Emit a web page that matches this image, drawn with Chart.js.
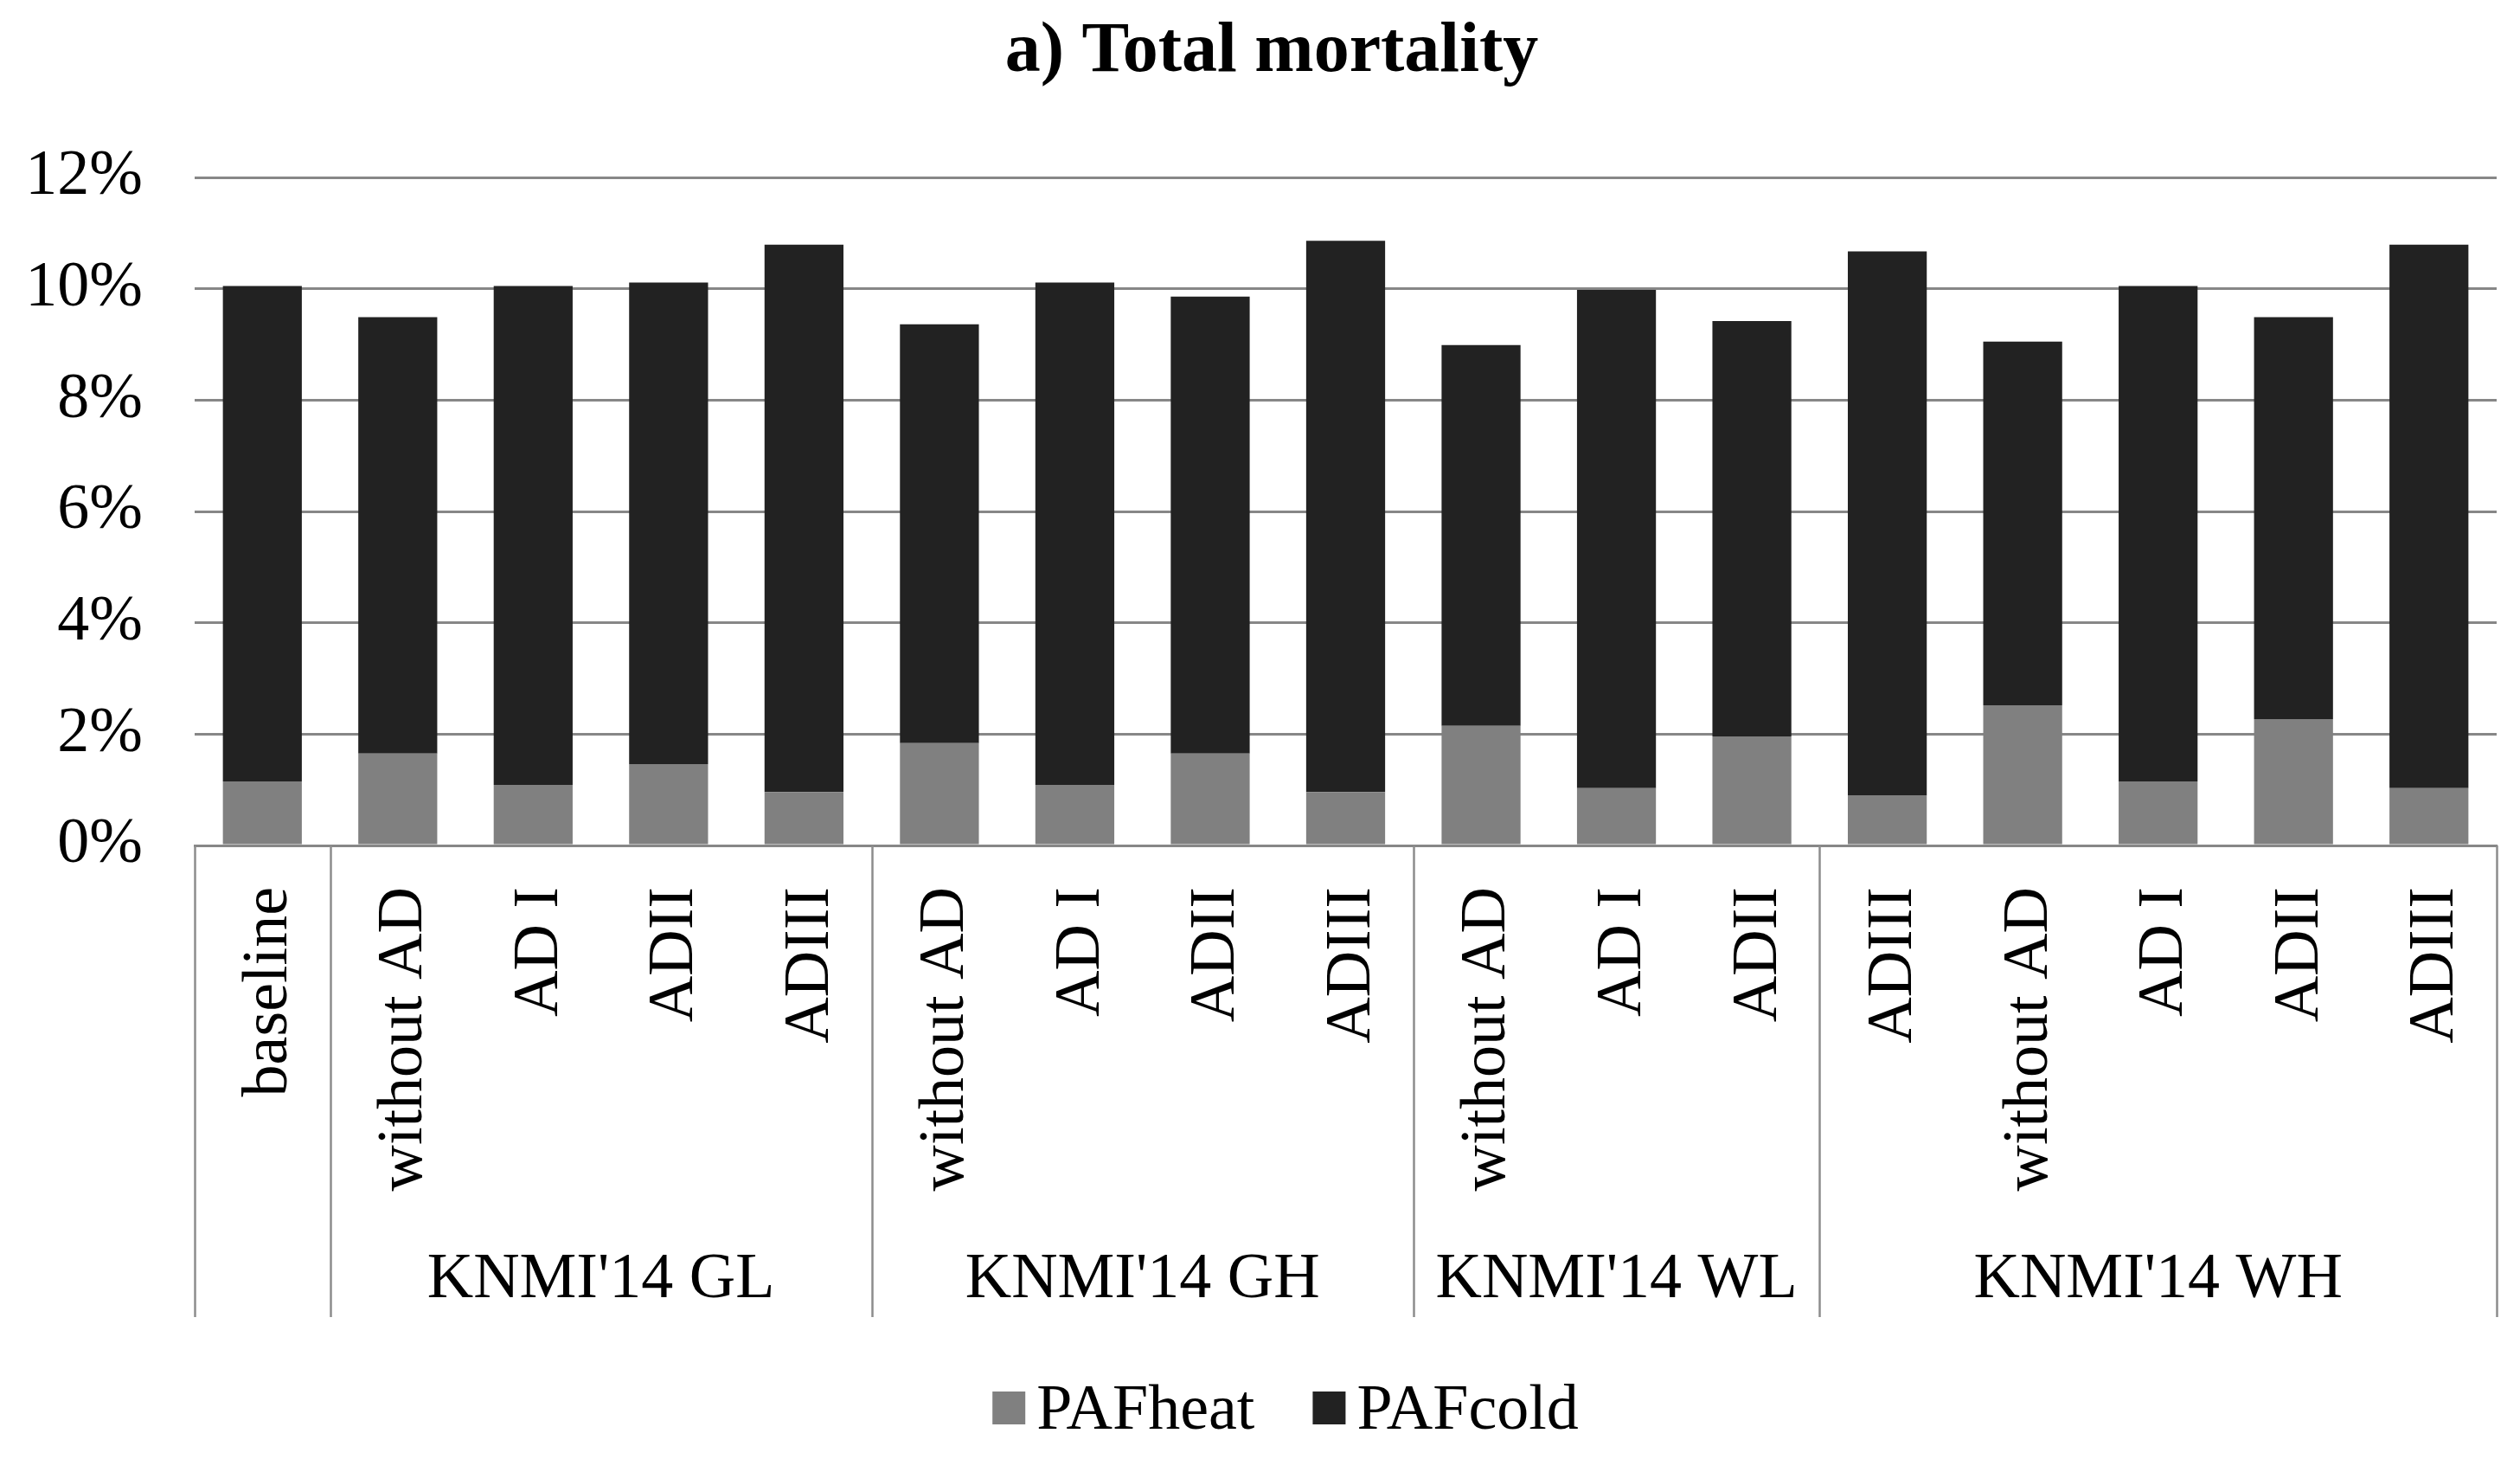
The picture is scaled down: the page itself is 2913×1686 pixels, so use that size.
<!DOCTYPE html>
<html>
<head>
<meta charset="utf-8">
<title>a) Total mortality</title>
<script src="https://cdn.jsdelivr.net/npm/chart.js@4.4.1/dist/chart.umd.min.js"></script>
<style>
  html, body { margin: 0; padding: 0; background: #fff; }
  canvas { display: block; }
</style>
</head>
<body>
<canvas id="myChart" width="2913" height="1686"></canvas>
<script>
// scenario categories (one bar each), grouped below the axis
const categories = ['baseline',
  'without AD', 'AD I', 'ADII', 'ADIII',
  'without AD', 'AD I', 'ADII', 'ADIII',
  'without AD', 'AD I', 'ADII',
  'ADIII', 'without AD', 'AD I', 'ADII', 'ADIII'];
const groupLabels = ['', "KNMI'14 GL", "KNMI'14 GH", "KNMI'14 WL", "KNMI'14 WH"];
const groupSizes = [1, 4, 4, 3, 5];

// values in %
const pafHeat = [1.15, 1.65, 1.09, 1.46, 0.96, 1.84, 1.09, 1.65, 0.96, 2.15, 1.03, 1.96, 0.90, 2.52, 1.15, 2.27, 1.03];
const pafCold = [8.90, 7.84, 8.96, 8.65, 9.83, 7.52, 9.02, 8.21, 9.90, 6.84, 8.95, 7.46, 9.77, 6.53, 8.90, 7.22, 9.76];

const yMin = 0, yMax = 12, yStep = 2;
const titleText = 'a) Total mortality';

const FONT = '"Liberation Serif", "Times New Roman", serif';
const GRID = '#878787';

// title, group table under the axis and legend
const extras = {
  id: 'extras',
  afterDraw(chart) {
    const ctx = chart.ctx;
    const x = chart.scales.x;
    ctx.save();

    // title
    ctx.fillStyle = '#000';
    ctx.font = 'bold 82px ' + FONT;
    ctx.textAlign = 'center';
    ctx.textBaseline = 'alphabetic';
    ctx.fillText(titleText, 1470, 82);

    // vertical lines of the category table
    const edges = [-0.5];
    let n = 0;
    groupSizes.forEach(s => { n += s; edges.push(n - 0.5); });
    ctx.strokeStyle = '#8c8c8c';
    ctx.lineWidth = 2.5;
    edges.forEach(e => {
      const px = Math.round(x.getPixelForValue(e)) + 0.5;
      ctx.beginPath();
      ctx.moveTo(px, x.top);
      ctx.lineTo(px, 1522);
      ctx.stroke();
    });

    // group labels
    ctx.font = '74px ' + FONT;
    ctx.fillStyle = '#000';
    groupLabels.forEach((lab, i) => {
      if (!lab) return;
      const cx = (x.getPixelForValue(edges[i]) + x.getPixelForValue(edges[i + 1])) / 2;
      ctx.fillText(lab, cx, 1499);
    });

    // legend
    const box = 38, gapText = 13, gapItem = 67;
    const items = chart.data.datasets.map(d => ({ text: d.label, color: d.backgroundColor, w: ctx.measureText(d.label).width }));
    let total = 0;
    items.forEach((it, i) => { total += box + gapText + it.w + (i ? gapItem : 0); });
    let lx = 1486 - total / 2;
    ctx.textAlign = 'left';
    items.forEach((it, i) => {
      if (i) lx += gapItem;
      ctx.fillStyle = it.color;
      ctx.fillRect(lx, 1608, box, box);
      lx += box + gapText;
      ctx.fillStyle = '#000';
      ctx.fillText(it.text, lx, 1651);
      lx += it.w;
    });

    ctx.restore();
  }
};

const ctx = document.getElementById('myChart').getContext('2d');
const myChart = new Chart(ctx, {
  type: 'bar',
  data: {
    labels: categories,
    datasets: [{
      label: 'PAFheat',
      data: pafHeat,
      backgroundColor: '#808080',
      borderWidth: 0
    }, {
      label: 'PAFcold',
      data: pafCold,
      backgroundColor: '#222222',
      borderWidth: 0
    }]
  },
  options: {
    responsive: false,
    animation: false,
    devicePixelRatio: 1,
    layout: { padding: { top: 205, right: 27, bottom: 0, left: 0 } },
    datasets: { bar: { categoryPercentage: 1, barPercentage: 0.583 } },
    plugins: {
      legend: { display: false },
      title: { display: false },
      tooltip: { enabled: false }
    },
    scales: {
      x: {
        stacked: true,
        grid: { display: false, drawTicks: false },
        border: { display: true, color: GRID, width: 3 },
        ticks: {
          autoSkip: false,
          minRotation: 90,
          maxRotation: 90,
          padding: 48,
          labelOffset: 8,
          color: '#000',
          font: { family: FONT, size: 74 }
        },
        afterFit(scale) {
          scale.height = 709;
          scale.paddingLeft = 0;
          scale.paddingRight = 0;
        }
      },
      y: {
        stacked: true,
        min: yMin,
        max: yMax,
        grid: { color: GRID, lineWidth: 3, drawTicks: false },
        border: { display: false },
        ticks: {
          stepSize: yStep,
          padding: 60,
          color: '#000',
          font: { family: FONT, size: 74 },
          callback: v => v + '%'
        },
        afterFit(scale) {
          scale.width = 225;
        }
      }
    }
  },
  plugins: [extras]
});
</script>
</body>
</html>
